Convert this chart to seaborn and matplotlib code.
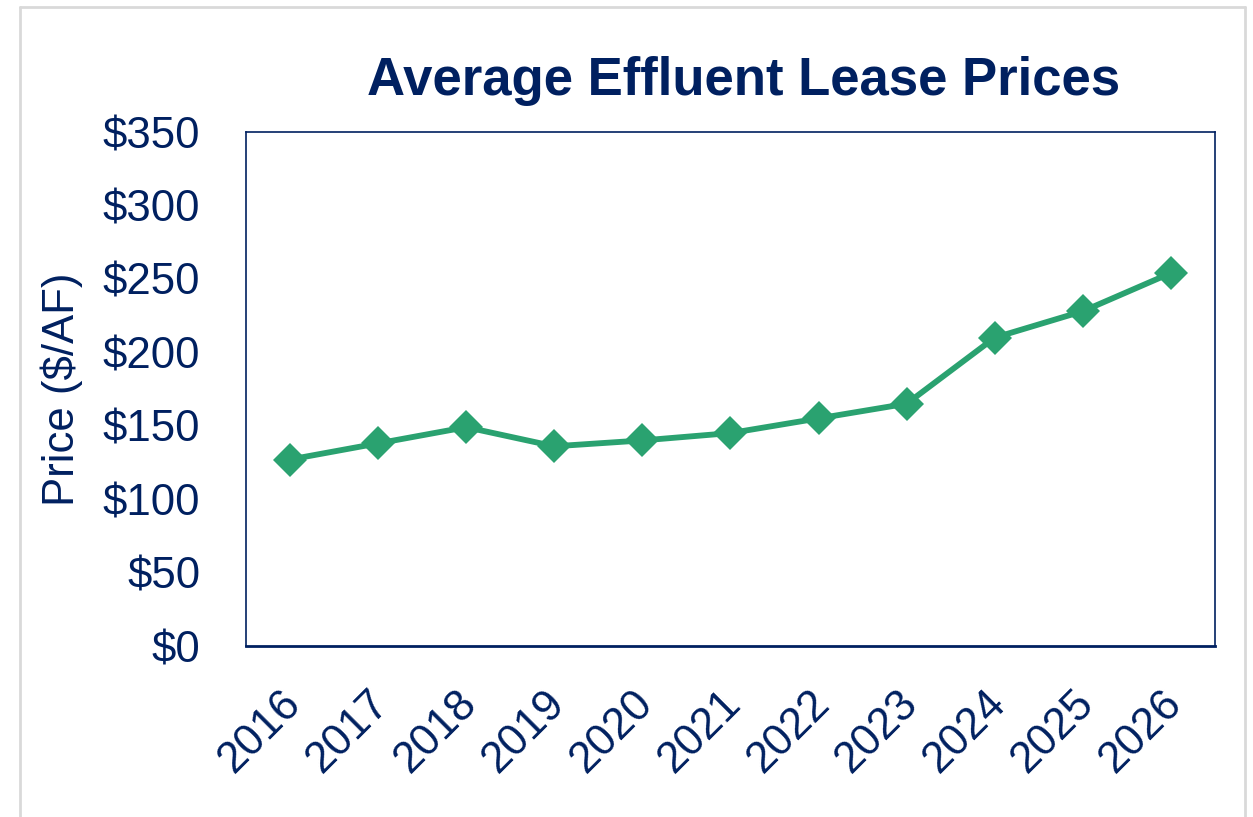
import matplotlib
matplotlib.use("Agg")
import matplotlib.pyplot as plt
import matplotlib.transforms as mtransforms
from matplotlib.lines import Line2D
import seaborn as sns

## ---------------- datos ----------------
years = ["2016", "2017", "2018", "2019", "2020", "2021",
         "2022", "2023", "2024", "2025", "2026"]
prices = [127, 138, 149, 136, 140, 145, 155, 165, 210, 228, 254]
y_ticks = [0, 50, 100, 150, 200, 250, 300, 350]
y_tick_labels = ["$" + str(v) for v in y_ticks]

navy = "#002060"
green = "#2AA270"

sns.set_style("white")
plt.rcParams["font.family"] = ["Liberation Sans", "DejaVu Sans"]

fig = plt.figure(figsize=(12.53, 8.17), dpi=100)
ax = fig.add_axes([0.1963, 0.2093, 0.9697 - 0.1963, 0.8384 - 0.2093])

sns.pointplot(x=years, y=prices, color=green, markers="D", errorbar=None,
              markersize=17, linewidth=4.2, markeredgewidth=0, ax=ax)

ax.set_ylim(0, 350)
ax.set_xlim(-0.5, len(years) - 0.5)
ax.set_yticks(y_ticks)
ax.set_yticklabels(y_tick_labels)
ax.set_xlabel("")
ax.set_ylabel("Price ($/AF)", fontsize=31.5, color=navy)
ax.yaxis.set_label_coords(-0.168, 0.5)
ax.grid(False)

ax.tick_params(axis="y", length=0, pad=33, labelsize=31.5, labelcolor=navy)
ax.tick_params(axis="x", length=0, pad=26, labelsize=31.5, labelcolor=navy)
offset = mtransforms.ScaledTranslation(-10 / 100, 0, fig.dpi_scale_trans)
for lab in ax.get_xticklabels():
    lab.set_rotation(45)
    lab.set_ha("right")
    lab.set_va("top")
    lab.set_rotation_mode("anchor")
    lab.set_transform(lab.get_transform() + offset)

for side in ["left", "right", "top"]:
    ax.spines[side].set_color(navy)
    ax.spines[side].set_linewidth(1.2)
ax.spines["bottom"].set_color(navy)
ax.spines["bottom"].set_linewidth(2)

fig.text(0.5934, 1 - 95 / 817, "Average Effluent Lease Prices",
         fontsize=38, fontweight="bold", color=navy, ha="center", va="baseline")

## borde gris exterior
gray = "#D9D9D9"
x0, x1, ytop = 20 / 1253, 1245 / 1253, 1 - 6.5 / 817
for xs, ys in [([x0, x0], [0, ytop]), ([x0, x1], [ytop, ytop]), ([x1, x1], [ytop, 0])]:
    fig.add_artist(Line2D(xs, ys, transform=fig.transFigure, color=gray, linewidth=2))

fig.savefig("out.png", dpi=100)
